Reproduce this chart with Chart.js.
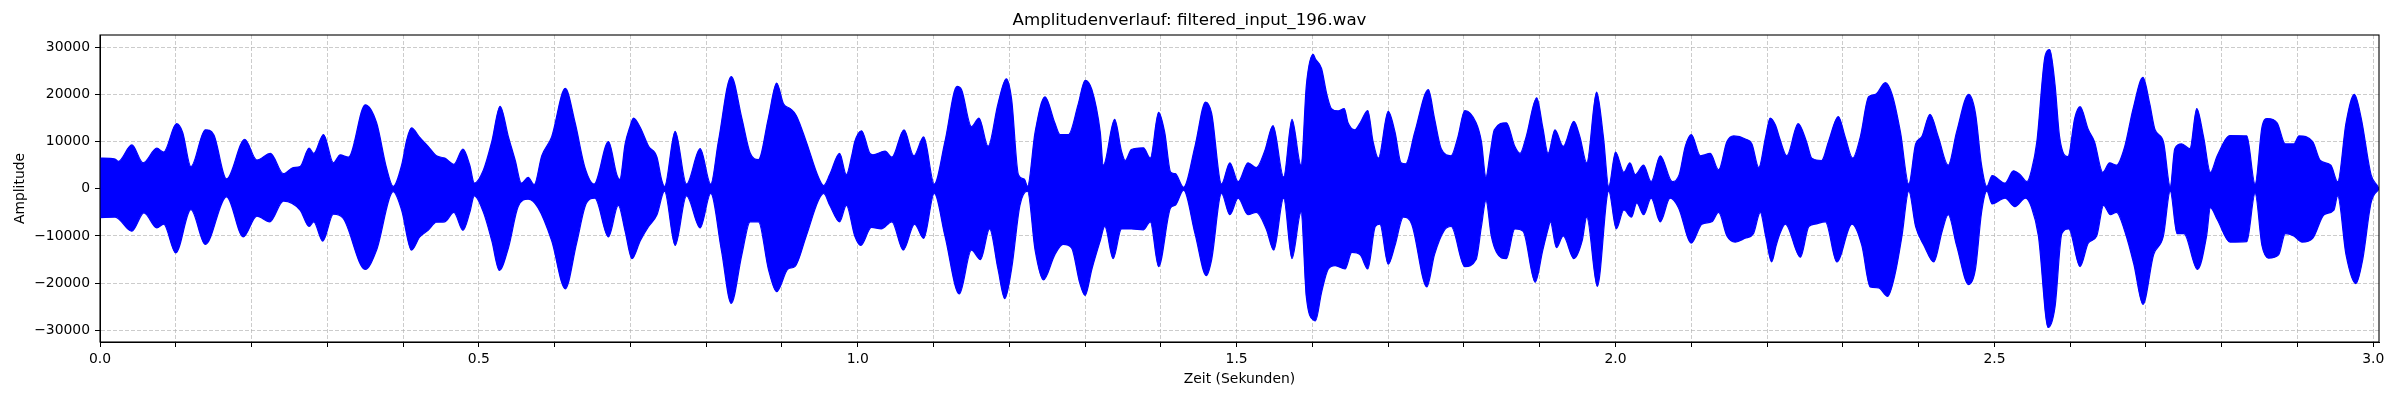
<!DOCTYPE html>
<html><head><meta charset="utf-8">
<script src="https://cdn.jsdelivr.net/npm/chart.js@4.4.1/dist/chart.umd.min.js"></script>
<style>html,body{margin:0;padding:0;background:#fff}canvas{display:block}</style>
</head><body>
<canvas id="c" width="2400" height="400"></canvas>
<script>
const chartTitle = 'Amplitudenverlauf: filtered_input_196.wav';
const xAxisLabel = 'Zeit (Sekunden)';
const yAxisLabel = 'Amplitude';

// Upper envelope of the waveform (time in s, amplitude)
const upperTimes = [
0.000,0.020,0.024,0.042,0.057,0.075,0.084,0.101,0.109,0.120,0.139,0.150,0.167,0.191,0.207,0.225,0.242,0.255,0.264,0.276,0.282,0.295,0.308,0.317,0.328,0.350,0.365,0.378,0.387,
0.398,0.405,0.411,0.422,0.433,0.444,0.455,0.467,0.479,0.488,0.494,0.506,0.517,0.528,0.539,0.548,0.556,0.565,0.573,0.583,0.596,0.614,0.627,0.640,0.652,0.671,0.682,0.686,
0.693,0.699,0.704,0.713,0.724,0.735,0.741,0.745,0.759,0.774,0.792,0.806,0.816,0.833,0.847,0.858,0.869,0.882,0.893,0.902,0.911,0.919,0.932,0.948,0.955,0.963,0.976,0.985,0.992,
0.996,1.005,1.016,1.020,1.036,1.045,1.061,1.074,1.087,1.101,1.115,1.131,1.137,1.150,1.160,1.172,1.185,1.196,1.203,1.212,1.220,1.224,1.234,1.247,1.260,1.267,1.278,1.291,1.300,
1.309,1.320,1.324,1.339,1.348,1.353,1.361,1.377,1.386,1.397,1.405,1.413,1.419,1.430,1.445,1.459,1.467,1.480,1.491,1.502,1.515,1.526,1.537,1.548,1.562,1.573,1.585,1.592,1.601,
1.604,1.612,1.619,1.625,1.634,1.642,1.647,1.656,1.663,1.673,1.680,1.687,1.700,1.709,1.717,1.723,1.735,1.753,1.761,1.770,1.783,1.792,1.801,1.816,1.823,1.829,1.834,1.840,1.856,1.867,1.874,1.882,1.896,1.904,1.911,
1.920,1.931,1.945,1.953,1.962,1.975,1.984,1.991,2.000,2.011,2.019,2.026,2.037,2.047,2.059,2.075,2.084,2.092,2.100,2.112,2.125,2.136,2.147,2.156,2.172,2.180,2.189,2.198,2.204,2.211,
2.217,2.226,2.241,2.252,2.259,2.272,2.281,2.294,2.303,2.313,2.323,2.334,2.343,2.356,2.365,2.376,2.387,2.396,2.404,2.415,2.426,2.439,2.450,2.466,2.475,2.483,2.490,2.497,2.514,
2.525,2.534,2.543,2.549,2.556,2.567,2.573,2.580,2.586,2.597,2.606,2.613,2.624,2.632,2.643,2.652,2.661,2.672,2.683,2.696,2.705,2.712,2.723,2.732,2.738,2.747,2.758,2.767,2.776,2.785,2.794,
2.811,2.833,2.844,2.853,2.860,2.873,2.884,2.895,2.902,2.920,2.930,2.944,2.953,2.964,2.975,2.984,2.997,3.006,3.0075
];
const upperValues = [
6500,6300,5800,9300,5500,8600,7800,13800,12000,4700,12500,11500,2100,10500,6100,7500,3200,4500,4700,8600,7500,11500,5500,7200,6700,17800,14000,4500,500,
5000,10500,12900,10900,9000,7000,6500,5200,8400,5000,1200,4000,10000,17500,11000,6000,1200,2400,900,7000,11000,21300,14000,4500,1000,10000,3000,2000,
9500,13000,15000,13000,9000,6700,2000,500,12200,1000,8500,1000,10000,23800,15000,7600,6200,15000,22400,18000,17000,15500,10000,2500,700,3000,7500,3000,7000,
10000,12300,7500,7200,8000,6700,12500,7000,11000,1000,10000,21700,21000,13200,15000,9000,18000,23300,19000,3000,2000,500,12000,19500,14000,11500,11500,18000,23000,
21000,12000,5000,14700,8000,6000,8300,8700,6500,16200,12000,3500,3200,300,9000,18400,16000,1000,5500,1500,5500,4500,8000,13400,2500,14700,5000,22000,28500,
27500,25500,20000,17000,16500,17000,14000,12500,14000,16600,10000,6500,16400,12000,5500,5300,12000,21000,15000,8500,7000,11000,16600,14000,10000,2500,7000,12500,14000,9000,7500,11000,19300,13000,7500,
12500,9000,14300,11000,5500,20500,11000,500,7800,3500,5500,3000,5000,1500,7000,1500,3000,9000,11500,7000,7500,4000,10000,11200,10500,9500,4500,11000,15000,13500,
10500,7000,13800,10000,6500,6000,10000,15300,11000,6500,11000,19500,20000,22500,20000,12000,1000,9500,11000,15800,11000,5000,12000,20000,16000,5000,500,2800,1200,
3800,3000,1500,4000,10000,28300,29500,22000,11000,6800,15000,17400,12500,10000,3500,5500,5000,9000,17000,23600,18000,12500,10000,500,8500,9500,8500,17000,11000,3500,7000,
11300,11200,1000,13000,14900,14000,9500,9500,11200,10000,6000,5000,1500,14000,20000,15000,3000,500,0
];

// Lower envelope of the waveform (time in s, amplitude)
const lowerTimes = [
0.000,0.020,0.042,0.058,0.075,0.084,0.100,0.120,0.139,0.167,0.189,0.207,0.224,0.242,0.264,0.276,0.282,0.294,0.308,0.321,0.350,0.365,0.387,
0.398,0.411,0.422,0.433,0.444,0.455,0.467,0.479,0.488,0.494,0.506,0.517,0.527,0.539,0.552,0.565,0.578,0.596,0.614,0.629,0.642,0.653,0.671,0.684,
0.693,0.702,0.713,0.724,0.735,0.745,0.759,0.774,0.792,0.806,0.820,0.833,0.847,0.858,0.869,0.882,0.893,0.908,0.917,0.932,0.948,0.955,0.963,0.976,0.985,
0.996,1.004,1.018,1.031,1.045,1.060,1.075,1.087,1.101,1.115,1.134,1.150,1.162,1.174,1.185,1.194,1.203,1.214,1.224,1.234,1.245,1.260,1.271,1.282,1.293,1.300,
1.309,1.320,1.326,1.337,1.348,1.361,1.377,1.386,1.397,1.413,1.419,1.430,1.445,1.460,1.467,1.480,1.491,1.502,1.515,1.526,1.539,1.549,1.562,1.573,1.585,1.592,1.602,
1.604,1.612,1.621,1.630,1.643,1.652,1.663,1.673,1.683,1.689,1.700,1.709,1.720,1.731,1.751,1.761,1.774,1.783,1.801,1.816,1.823,1.829,1.836,1.843,1.856,1.867,1.878,1.894,1.904,1.911,
1.914,1.922,1.931,1.945,1.956,1.962,1.976,1.991,2.001,2.011,2.021,2.028,2.037,2.047,2.059,2.072,2.083,2.100,2.114,2.127,2.136,2.147,2.158,2.171,2.182,2.191,2.198,2.206,
2.212,2.217,2.224,2.244,2.255,2.263,2.277,2.292,2.312,2.325,2.336,2.347,2.359,2.369,2.378,2.387,2.396,2.407,2.420,2.431,2.439,2.450,2.466,2.475,2.483,2.490,2.497,2.514,
2.527,2.541,2.549,2.558,2.571,2.580,2.589,2.598,2.613,2.624,2.635,2.644,2.653,2.661,2.672,2.684,2.696,2.710,2.723,2.732,2.741,2.750,2.768,2.780,2.785,2.794,
2.811,2.833,2.844,2.853,2.862,2.875,2.884,2.895,2.906,2.920,2.935,2.948,2.953,2.964,2.977,2.986,2.997,3.0075
];
const lowerValues = [
-6100,-6000,-9000,-5100,-8300,-7500,-13600,-4400,-11800,-1700,-10200,-5800,-7000,-2600,-4500,-8000,-7000,-11100,-5400,-6300,-17100,-13000,-600,
-4500,-13000,-10200,-8800,-7100,-7000,-5000,-8800,-5000,-1500,-5000,-11000,-17300,-12500,-3700,-2200,-4000,-11000,-21200,-11500,-3000,-2000,-10200,-3500,
-9000,-14800,-11000,-8000,-5500,-500,-12000,-1500,-8300,-1000,-13000,-24300,-14000,-7000,-7000,-17000,-21800,-17000,-16500,-10000,-2500,-1000,-3500,-7000,-3500,
-10000,-12000,-8200,-8500,-7000,-13000,-7500,-10500,-1000,-10000,-22300,-13000,-15000,-8500,-17000,-23300,-17000,-3500,-500,-13000,-19300,-14000,-11800,-12500,-20000,-22600,
-17000,-11000,-8000,-14800,-8500,-8500,-8700,-7000,-16500,-4000,-3500,-300,-9500,-18400,-15000,-1000,-5500,-2000,-5500,-5000,-8500,-13000,-2000,-14800,-5000,-23000,-27900,
-28000,-22000,-17000,-16300,-17000,-13500,-14000,-17000,-8000,-7500,-16000,-12000,-6000,-7500,-20800,-14000,-8800,-8000,-16500,-15000,-8000,-2500,-10000,-13500,-14800,-8500,-9000,-19800,-13000,-8500,
-7000,-12500,-10000,-14800,-11000,-6000,-20700,-500,-8500,-4500,-6000,-3000,-5500,-2000,-7000,-2000,-4000,-11500,-7500,-7000,-5000,-10000,-11300,-10500,-9500,-5000,-10000,-15500,
-12000,-9500,-7500,-14500,-8000,-7500,-7000,-15500,-7500,-12000,-20800,-21000,-22800,-18000,-10000,-500,-8000,-12000,-15500,-9000,-5500,-12000,-20300,-17000,-5000,-500,-3200,-2000,
-3800,-2000,-4000,-10000,-29400,-25000,-9500,-8500,-16500,-11500,-10000,-3500,-5500,-5000,-9000,-16000,-24500,-14000,-10000,-500,-9500,-9500,-17100,-10000,-4000,-6500,
-11300,-11200,-1000,-12000,-14700,-14000,-9500,-10000,-11300,-10500,-5500,-4500,-1500,-14000,-20100,-15000,-3000,0
];

// Axis ticks
const xGridTicks = [0.0,0.1,0.2,0.3,0.4,0.5,0.6,0.7,0.8,0.9,1.0,1.1,1.2,1.3,1.4,1.5,1.6,1.7,1.8,1.9,2.0,2.1,2.2,2.3,2.4,2.5,2.6,2.7,2.8,2.9,3.0];
const xLabelTicks = [0.0,0.5,1.0,1.5,2.0,2.5,3.0];
const yTickValues = [-30000,-20000,-10000,0,10000,20000,30000];

const xRange = [0, 3.0075];
const yRange = [-32480, 32600];

const FONT = 'DejaVu Sans';
const gridColor = 'rgba(176,176,176,0.65)';

const toPoints = (ts, vs) => ts.map((t, i) => ({x: t, y: vs[i]}));

const framePlugin = {
  id: 'frame',
  afterDraw(chart) {
    const {ctx, chartArea: a} = chart;
    ctx.save();
    ctx.strokeStyle = '#000';
    ctx.lineWidth = 1.1;
    ctx.setLineDash([]);
    ctx.strokeRect(a.left, a.top, a.right - a.left, a.bottom - a.top);
    ctx.restore();
  }
};

const waveStyle = {borderColor: '#0000ff', backgroundColor: '#0000ff', borderWidth: 1.2, pointRadius: 0, cubicInterpolationMode: 'monotone'};

new Chart(document.getElementById('c'), {
  type: 'line',
  data: {
    datasets: [
      Object.assign({data: toPoints(upperTimes, upperValues), fill: '+1'}, waveStyle),
      Object.assign({data: toPoints(lowerTimes, lowerValues), fill: false}, waveStyle)
    ]
  },
  options: {
    responsive: false,
    animation: false,
    devicePixelRatio: 1,
    events: [],
    layout: {padding: {left: 0, right: 21, top: 0, bottom: 0}},
    plugins: {
      legend: {display: false},
      tooltip: {enabled: false},
      title: {
        display: true, text: chartTitle, color: '#000',
        font: {family: FONT, size: 16.67, weight: 'normal', lineHeight: 1.2},
        padding: {top: 11, bottom: 4}
      }
    },
    scales: {
      x: {
        type: 'linear', min: xRange[0], max: xRange[1],
        afterBuildTicks: s => { s.ticks = xGridTicks.map(v => ({value: v})); },
        afterFit: s => { s.height = 58; },
        ticks: {
          autoSkip: false, maxRotation: 0, padding: 4, color: '#000',
          font: {family: FONT, size: 13.9},
          callback: v => xLabelTicks.some(m => Math.abs(m - v) < 1e-6) ? Number(v).toFixed(1) : ''
        },
        grid: {color: gridColor, lineWidth: 1, tickColor: '#000', tickLength: 5, tickWidth: 1},
        border: {display: true, color: '#000', width: 1, dash: [4, 2]},
        title: {display: true, text: xAxisLabel, color: '#000', font: {family: FONT, size: 13.9}, padding: {top: 0, bottom: 12.7}}
      },
      y: {
        type: 'linear', min: yRange[0], max: yRange[1],
        afterBuildTicks: s => { s.ticks = yTickValues.map(v => ({value: v})); },
        afterFit: s => { s.width = 100; },
        ticks: {
          padding: 5, color: '#000', font: {family: FONT, size: 13.9},
          callback: v => v < 0 ? '\u2212' + Math.abs(v) : String(v)
        },
        grid: {color: gridColor, lineWidth: 1, tickColor: '#000', tickLength: 5, tickWidth: 1},
        border: {display: true, color: '#000', width: 1, dash: [4, 2]},
        title: {display: true, text: yAxisLabel, color: '#000', font: {family: FONT, size: 13.9}, padding: {top: 12.4, bottom: 0}}
      }
    }
  },
  plugins: [framePlugin]
});
</script>
</body></html>
